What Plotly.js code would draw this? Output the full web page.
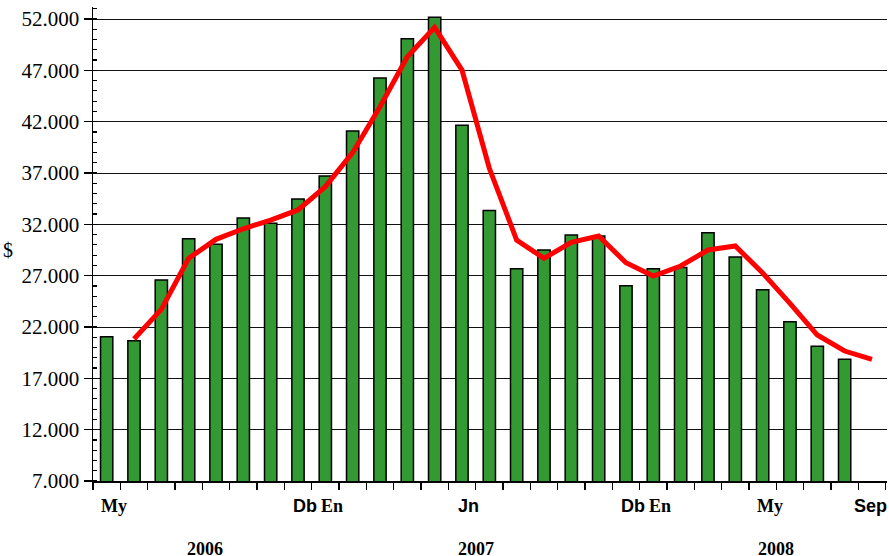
<!DOCTYPE html>
<html>
<head>
<meta charset="utf-8">
<script src="https://cdn.plot.ly/plotly-3.0.1.min.js"></script>
<style>
  body { margin: 0; background: #fff; }
  #chart { width: 889px; height: 556px; }
</style>
</head>
<body>
<div id="chart"></div>
<script>
// monthly values, May 2006 .. Sep 2008
var months = ["My", "", "", "", "", "", "", "Db", "En", "", "", "", "", "Jn", "", "", "", "", "", "Db", "En", "", "", "", "My", "", "", "", "Sep"];
var monthly = [21050, 20670, 26580, 30600, 30050, 32620, 32100, 34470, 36700, 41090, 46250, 50080, 52160, 41640,
  33360, 27680, 29500, 30960, 30860, 26020, 27680, 27800, 31190, 28820, 25640, 22520, 20120, 18850, null];
var trend = [null, 20830, 23720, 28690, 30540, 31570, 32420, 33400, 35670, 38980, 43460, 48330, 51190, 47030,
  37460, 30470, 28690, 30250, 30860, 28260, 26970, 27940, 29500, 29890, 27260, 24310, 21220, 19660, 18850];
var years = ["2006", "2007", "2008"];
var yearPos = [3.6, 13.5, 24.5];

var idx = months.map((m, i) => i);

var bars = {
    x: idx,
    y: monthly,
    type: "bar",
    width: 0.45,
    marker: { color: "#339933", line: { color: "#000", width: 1.5 } },
    hoverinfo: "y"
};
var line = {
    x: idx,
    y: trend,
    type: "scatter",
    mode: "lines",
    line: { color: "#ff0000", width: 5 },
    hoverinfo: "y"
};

var serifLabels = ["My", "En"];
var notes = [];
months.forEach((m, i) => {
    if (!m) return;
    notes.push({
        x: i, y: 0, xref: "x", yref: "paper", yanchor: "top", yshift: -13,
        xanchor: "center", xshift: m == "Sep" ? -1 : 7,
        text: "<b>" + m + "</b>", showarrow: false,
        font: { family: serifLabels.includes(m) ? "Liberation Serif" : "Liberation Sans", size: 18, color: "#000" }
    });
});
years.forEach((y, i) => {
    notes.push({
        x: yearPos[i], y: 0, xref: "x", yref: "paper", yanchor: "top", yshift: -56,
        xanchor: "center",
        text: "<b>" + y + "</b>", showarrow: false,
        font: { family: "Liberation Serif", size: 18, color: "#000" }
    });
});
notes.push({
    x: -0.107, y: 29500, xref: "paper", yref: "y", xanchor: "center", text: "$", showarrow: false,
    font: { family: "Liberation Serif", size: 20, color: "#000" }
});

var layout = {
    width: 889,
    height: 556,
    margin: { l: 93, r: 2, t: 7, b: 75 },
    paper_bgcolor: "#fff",
    plot_bgcolor: "#fff",
    showlegend: false,
    separators: ",.",
    xaxis: {
        range: [-0.5, 28.55],
        tickmode: "linear", tick0: -0.5, dtick: 1,
        ticks: "outside", ticklen: 7, tickwidth: 1.5, tickcolor: "#000",
        showticklabels: false, showgrid: false, zeroline: false,
        showline: true, linecolor: "#000", linewidth: 1.5
    },
    yaxis: {
        range: [7000, 53170],
        tickmode: "linear", tick0: 7000, dtick: 5000, tickformat: ",d",
        ticks: "outside", ticklen: 8, tickwidth: 1.5, tickcolor: "#000",
        minor: { dtick: 1000, ticks: "inside", ticklen: 4, tickwidth: 1.2, tickcolor: "#000", showgrid: false },
        tickfont: { family: "Liberation Serif", size: 21, color: "#000" },
        showgrid: true, gridcolor: "#111", gridwidth: 1, zeroline: false,
        showline: true, linecolor: "#000", linewidth: 1.5
    },
    annotations: notes
};

Plotly.newPlot("chart", [bars, line], layout, { displayModeBar: false, staticPlot: true });
</script>
</body>
</html>
